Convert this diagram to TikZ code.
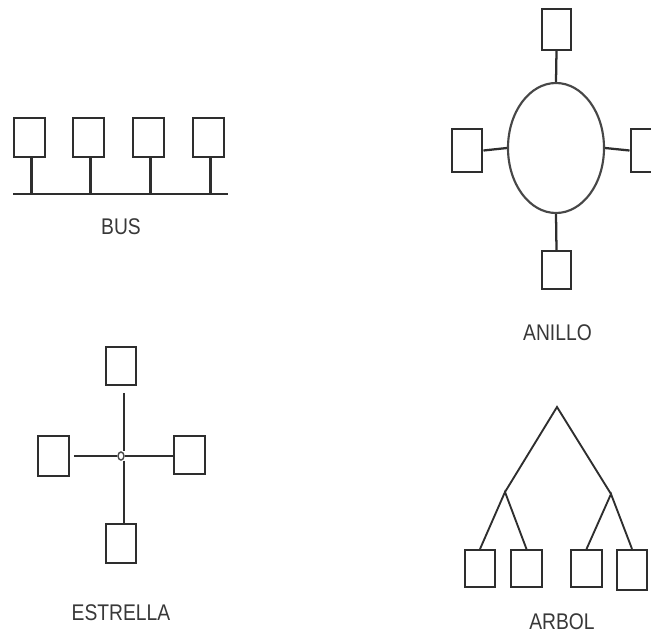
\documentclass[tikz,border=0pt]{standalone}
\usepackage{fontspec}
\setmainfont{Liberation Sans}
\usetikzlibrary{shapes.geometric}
% narrow caption lettering
\newcommand{\narrowcap}[1]{\scalebox{0.85}[1]{#1}}
\begin{document}
\begin{tikzpicture}[x=0.75pt,y=-0.75pt,
  wire/.style={draw=black!82,line width=1.7pt},
  pc/.style={draw=black!82,line width=1.7pt,rectangle,inner sep=0pt,
    minimum width=23pt,minimum height=29pt},
  caption/.style={text=black!78,font=\fontsize{17}{19}\selectfont,inner sep=0pt}]
\useasboundingbox (0,0) rectangle (651,643);

% ---- BUS ----
\coordinate (busL) at (13,194);
\coordinate (busR) at (228,194);
\draw[wire] (busL) -- (busR);
\foreach \n/\cx in {1/29.5,2/88.5,3/148.5,4/208.5}{
  \node[pc] (bus\n) at (\cx,137.5) {};
  \draw[wire] ([xshift=1.5pt]bus\n.south) -- ([xshift=1.5pt]bus\n.south |- busL);
}
\node[caption] (lbus) at (121,227) {\narrowcap{BUS}};

% ---- ANILLO ----
\node[ellipse,draw=black!72,line width=1.6pt,minimum width=72pt,minimum height=97.5pt,inner sep=0pt]
  (ring) at (556,148) {};
\node[pc,minimum width=22pt,minimum height=30.5pt] (rt) at (556.5,29.5) {};
\node[pc,minimum height=32pt] (rl) at (467,150.5) {};
\node[pc,minimum height=32pt] (rr) at (646,150.5) {};
\node[pc,minimum width=22pt,minimum height=28.5pt] (rb) at (556.5,270) {};
\draw[wire] (rt.south) -- (ring.north);
\draw[wire] (rb.north) -- (ring.south);
\draw[wire] (rl.east) -- (ring.west);
\draw[wire] (rr.west) -- (ring.east);
\node[caption] (lring) at (557.5,333) {\narrowcap{ANILLO}};

% ---- ESTRELLA ----
\node[ellipse,draw=black!70,line width=1.1pt,minimum width=4.5pt,minimum height=6pt,inner sep=0pt] (hub) at (121,456) {};
\node[pc,minimum height=28.5pt] (st) at (121,366) {};
\node[pc,minimum height=30pt] (sl) at (53.5,456) {};
\node[pc,minimum height=28.5pt] (sr) at (189.5,455) {};
\node[pc] (sb) at (121,543.5) {};
\draw[wire] ([xshift=2pt,yshift=-5pt]st.south) -- ([xshift=2pt]hub.north);
\draw[wire] ([xshift=2pt]hub.south) -- ([xshift=2pt]sb.north);
\draw[wire] ([xshift=3pt]sl.east |- hub.west) -- (hub.west);
\draw[wire] (hub.east) -- (sr.west |- hub.east);
\node[caption] (lstar) at (121,612.5) {\narrowcap{ESTRELLA}};

% ---- ARBOL ----
\coordinate (root) at (557,407);
\coordinate (forkL) at (505,492);
\coordinate (forkR) at (611,494);
\node[pc,minimum width=22.5pt,minimum height=27.5pt] (t1) at (480,568.5) {};
\node[pc,minimum height=27.5pt] (t2) at (526.5,568.5) {};
\node[pc,minimum height=27.5pt] (t3) at (586.5,568.5) {};
\node[pc,minimum width=22.5pt,minimum height=30pt] (t4) at (632,570) {};
\draw[wire,line width=1.4pt] (forkL) -- (root) -- (forkR);
\draw[wire,line width=1.4pt] (t1.north) -- (forkL) -- (t2.north);
\draw[wire,line width=1.4pt] (t3.north) -- (forkR) -- (t4.north);
\node[caption] (ltree) at (562,622) {\narrowcap{ARBOL}};
\end{tikzpicture}
\end{document}
